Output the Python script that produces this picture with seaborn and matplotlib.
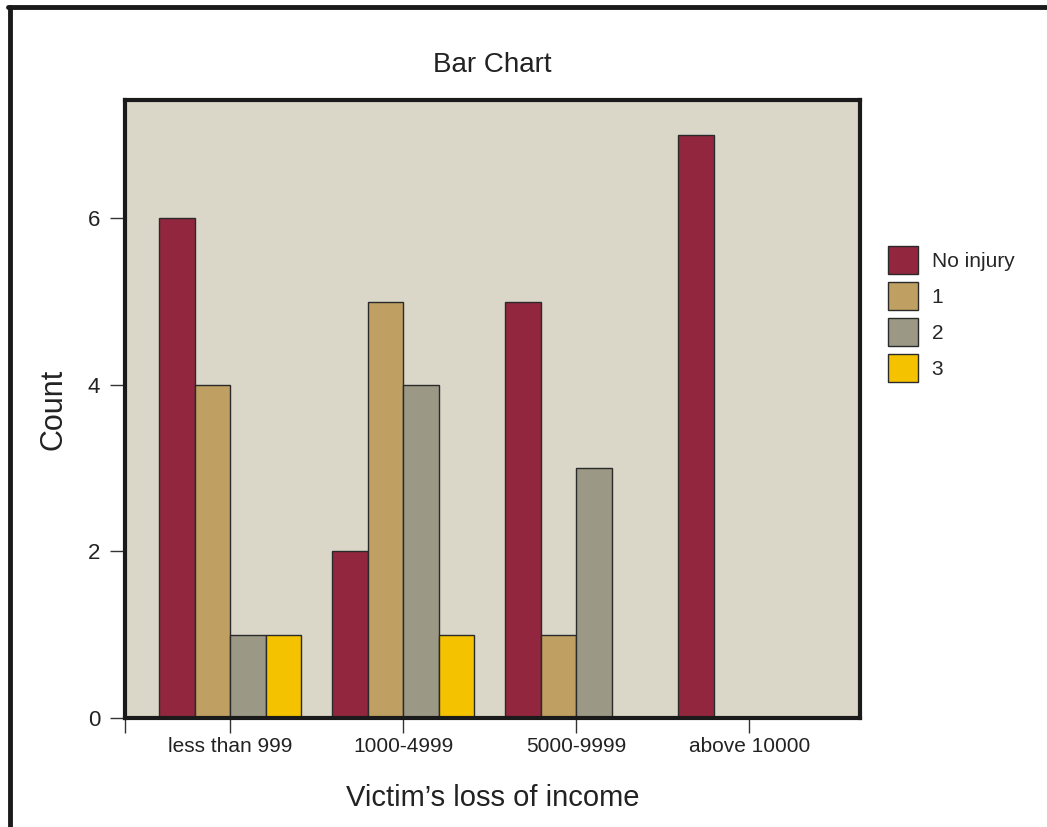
import pandas as pd
import numpy as np
import matplotlib
matplotlib.use("Agg")
import matplotlib.pyplot as plt
from matplotlib.lines import Line2D
import seaborn as sns

# data
incomes = ["less than 999", "1000-4999", "5000-9999", "above 10000"]
injuries = ["No injury", "1", "2", "3"]
no_injury = [6, 2, 5, 7]
injury_1 = [4, 5, 1, 0]
injury_2 = [1, 4, 3, 0]
injury_3 = [1, 1, 0, 0]
colors = ["#93263F", "#BF9F62", "#9B9886", "#F5C200"]

rows = []
for series, name in zip([no_injury, injury_1, injury_2, injury_3], injuries):
    for inc, v in zip(incomes, series):
        rows.append({"income": inc, "injury": name, "count": v})
df = pd.DataFrame(rows)
df = df[df["count"] > 0]

sns.set_style("white")
plt.rcParams["font.family"] = ["Liberation Sans", "DejaVu Sans"]

fig = plt.figure(figsize=(10.47, 8.27), dpi=100)
ax = fig.add_axes([0.1194, 0.1318, 0.702, 0.7473])

sns.barplot(data=df, x="income", y="count", hue="injury",
            order=incomes, hue_order=injuries, palette=colors,
            width=0.82, edgecolor="#2a2a2a", linewidth=1,
            saturation=1, ax=ax)

ax.set_facecolor("#DAD6C8")
ax.set_xlim(-0.607, 3.64)
ax.set_ylim(0, 7.42)
for s in ax.spines.values():
    s.set_visible(True)
    s.set_linewidth(3)
    s.set_color("#1a1a1a")
    s.set_zorder(5)

ax.set_yticks([0, 2, 4, 6])
ax.set_xticks([ax.get_xlim()[0], 0, 1, 2, 3])
ax.set_xticklabels([""] + incomes)
ax.tick_params(axis="both", direction="out", length=11, width=1,
               color="#333333", labelsize=15, pad=6, labelcolor="#222222")
ax.tick_params(axis="y", left=True, pad=7, labelsize=16)
ax.tick_params(axis="x", bottom=True, pad=3)

ax.set_xlabel("Victim’s loss of income", fontsize=21, labelpad=20, color="#222222")
ax.set_ylabel("Count", fontsize=22, labelpad=14, color="#222222")
ax.set_title("Bar Chart", fontsize=20, pad=20, color="#222222")

handles, labels = ax.get_legend_handles_labels()
ax.legend(handles, labels, loc="upper left",
          bbox_to_anchor=(888 / 1047, 1 - 246 / 827),
          bbox_transform=fig.transFigure, frameon=False, fontsize=15,
          handlelength=1.45, handleheight=1.7, handletextpad=0.65,
          labelspacing=0.38, borderpad=0, borderaxespad=0)

# page border on left and top
fig.add_artist(Line2D([9.5 / 1047, 9.5 / 1047], [0, 1 - 7 / 827],
                      transform=fig.transFigure, color="#1a1a1a", lw=3.5))
fig.add_artist(Line2D([8 / 1047, 1], [1 - 7 / 827, 1 - 7 / 827],
                      transform=fig.transFigure, color="#1a1a1a", lw=3.5))

fig.savefig("out.png", dpi=100)
